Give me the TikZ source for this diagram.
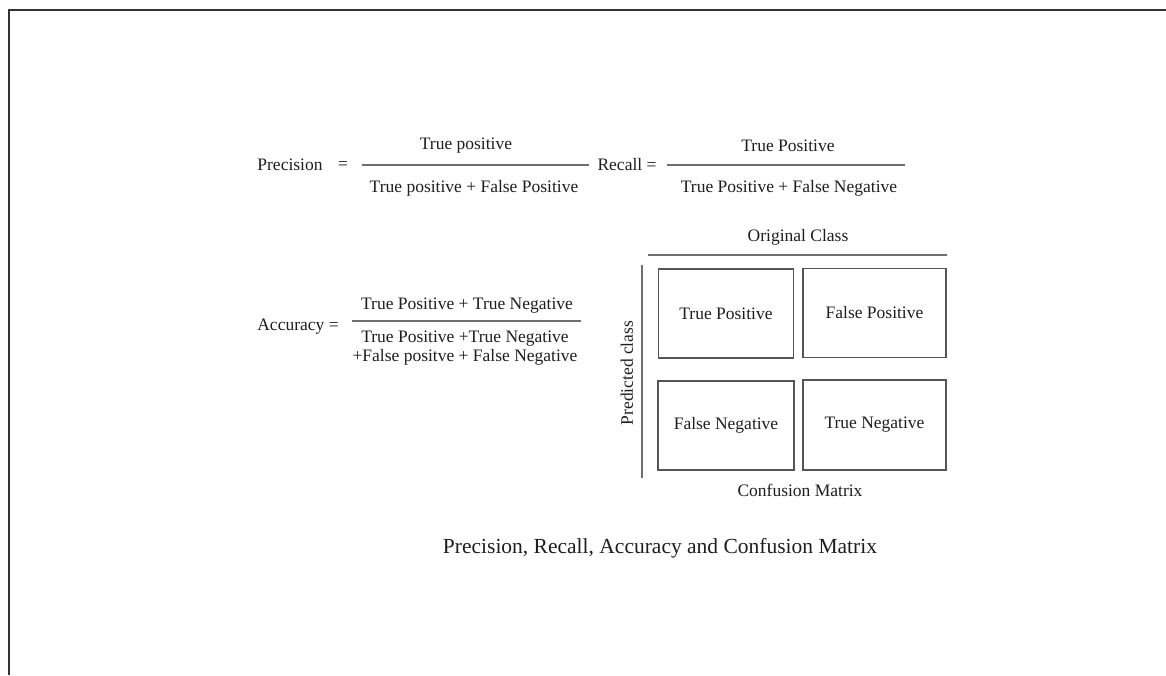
\documentclass[tikz,border=0pt]{standalone}
\usepackage{fontspec}
\setmainfont{Liberation Serif}
\usepackage{xcolor}
\definecolor{lineGray}{HTML}{6E6E6E}
\definecolor{boxGray}{HTML}{555555}
\definecolor{textDark}{HTML}{1E1E1E}
\usetikzlibrary{calc}
\tikzset{
    txt/.style={font=\fontsize{17.5}{19}\selectfont,text=textDark,inner sep=0pt},
    titletxt/.style={font=\fontsize{21.5}{24}\selectfont,text=textDark,inner sep=0pt},
    fracline/.style={draw=lineGray, line width=1.3pt},
    cell/.style={draw=boxGray, line width=1.2pt, minimum width=135pt, minimum height=89pt,
                 font=\fontsize{17.5}{20}\selectfont, text=textDark, inner sep=0pt}
}

\begin{document}
\begin{tikzpicture}[x=1pt, y=-1pt]
  % page
  \useasboundingbox (0,0) rectangle (1166,675);
  \fill[white] (0,0) rectangle (1166,675);
  \draw[black!80, line width=2pt] (8.5,675) -- (8.5,9.5) -- (1166,9.5);

  % precision
  \node[txt] (prec) at (290,165) {Precision};
  \node[txt] (precEq) at (343,165) {=};
  \coordinate (pl) at (362,165);
  \coordinate (pr) at (589,165);
  \draw[fracline] (pl) -- (pr);
  \node[txt] (precNum) at (466,146) {True positive};
  \node[txt] (precDen) at (474,188) {True positive + False Positive};

  % recall
  \node[txt] (rec) at (627,165) {Recall =};
  \coordinate (rl) at (667,165);
  \coordinate (rr) at (905,165);
  \draw[fracline] (rl) -- (rr);
  \node[txt] (recNum) at (788,146) {True Positive};
  \node[txt] (recDen) at (789,188) {True Positive + False Negative};

  % accuracy
  \node[txt] (acc) at (298,327) {Accuracy =};
  \coordinate (al) at (352,321);
  \coordinate (ar) at (581,321);
  \draw[fracline] (al) -- (ar);
  \node[txt] (accNum) at (467,306) {True Positive + True Negative};
  \node[txt, align=center] (accDen) at (465,348)
    {True Positive +True Negative\\+False positve + False Negative};

  % confusion matrix
  \node[txt] (orig) at (798,237) {Original Class};
  \coordinate (ol) at (648,255);
  \coordinate (or) at (947,255);
  \draw[fracline] (ol) -- (or);
  \coordinate (vt) at (642,265);
  \coordinate (vb) at (642,478);
  \draw[fracline] (vt) -- (vb);
  \node[txt, rotate=90] (pred) at (627,373) {Predicted class};

  \node[cell] (tp) at (726,313.5) {True Positive};
  \node[cell, minimum width=143pt] (fp) at (874.5,313) {False Positive};
  \node[cell, minimum width=136pt] (fn) at (726,425.5) {False Negative};
  \node[cell, minimum width=143pt, minimum height=90pt] (tn) at (874.5,425) {True Negative};

  \node[txt] (cm) at (800,490) {Confusion Matrix};

  % caption
  \node[titletxt] (title) at (660,548) {Precision, Recall, Accuracy and Confusion Matrix};
\end{tikzpicture}
\end{document}
